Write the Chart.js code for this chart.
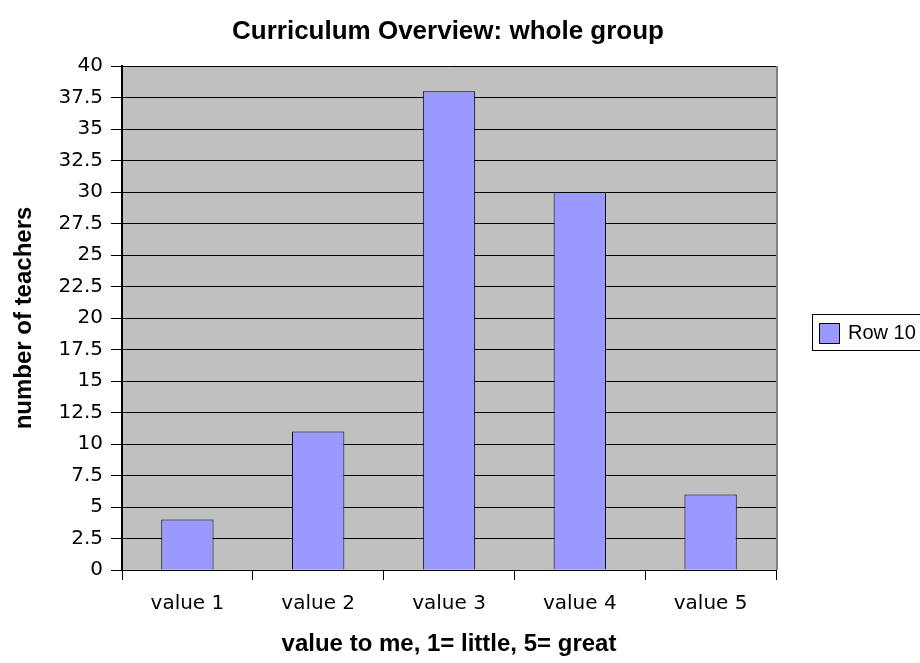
<!DOCTYPE html>
<html>
<head>
<meta charset="utf-8">
<script src="https://cdn.jsdelivr.net/npm/chart.js@4.4.0/dist/chart.umd.min.js"></script>
<style>
  html, body { margin: 0; padding: 0; background: #fff; }
  #wrap { width: 920px; height: 663px; }
</style>
</head>
<body>
<div id="wrap"><canvas id="chart" width="920" height="663"></canvas></div>
<script>
// chart data
const categories = ['value 1', 'value 2', 'value 3', 'value 4', 'value 5'];
const row10 = [4, 11, 38, 30, 6];
const seriesName = 'Row 10';
const yMin = 0, yMax = 40, yStep = 2.5;

const PLOT_BG = '#c0c0c0';
const BAR_FILL = '#9999ff';
const ARIAL = '"Liberation Sans", Arial, sans-serif';
const VERDANA = '"DejaVu Sans", Verdana, sans-serif';

// gray plot background, right frame, title and legend
const plotFrame = {
    id: 'plotFrame',
    beforeDraw(chart) {
        const { ctx, chartArea: a } = chart;
        ctx.save();
        ctx.fillStyle = PLOT_BG;
        ctx.fillRect(a.left, a.top, a.right - a.left, a.bottom - a.top);
        ctx.restore();
    },
    afterDraw(chart) {
        const { ctx, chartArea: a } = chart;
        ctx.save();
        ctx.strokeStyle = '#808080';
        ctx.lineWidth = 2;
        ctx.beginPath();
        ctx.moveTo(a.right + 1, a.top);
        ctx.lineTo(a.right + 1, a.bottom);
        ctx.stroke();

        // title
        ctx.fillStyle = '#000';
        ctx.font = 'bold 26px ' + ARIAL;
        ctx.textAlign = 'center';
        ctx.textBaseline = 'alphabetic';
        ctx.fillText('Curriculum Overview: whole group', 448, 39);

        // legend
        ctx.lineWidth = 1;
        ctx.strokeStyle = '#000';
        ctx.strokeRect(812.5, 314.5, 120, 36);
        ctx.fillStyle = BAR_FILL;
        ctx.fillRect(819.5, 323.5, 20, 20);
        ctx.strokeRect(819.5, 323.5, 20, 20);
        ctx.fillStyle = '#000';
        ctx.font = '20px ' + ARIAL;
        ctx.textAlign = 'left';
        ctx.textBaseline = 'middle';
        ctx.fillText(seriesName, 848, 333);
        ctx.restore();
    }
};

new Chart(document.getElementById('chart'), {
    type: 'bar',
    data: {
        labels: categories,
        datasets: [{
            label: seriesName,
            data: row10,
            backgroundColor: BAR_FILL,
            borderColor: '#000',
            borderWidth: 1,
            barPercentage: 0.4,
            categoryPercentage: 1.0
        }]
    },
    options: {
        responsive: false,
        animation: false,
        layout: { padding: { top: 66, right: 144, left: 0, bottom: 0 } },
        plugins: {
            legend: { display: false },
            title: { display: false },
            tooltip: { enabled: false }
        },
        scales: {
            x: {
                grid: {
                    offset: true,
                    drawOnChartArea: false,
                    drawTicks: true,
                    tickLength: 10,
                    color: '#000'
                },
                border: { color: '#000', width: 1 },
                ticks: {
                    color: '#000',
                    padding: 12,
                    font: { family: VERDANA, size: 20 }
                },
                title: {
                    display: true,
                    text: 'value to me, 1= little, 5= great',
                    color: '#000',
                    padding: { top: 0, bottom: 4 },
                    font: { family: ARIAL, size: 24, weight: 'bold' }
                },
                afterFit(scale) { scale.height = 93; }
            },
            y: {
                min: yMin,
                max: yMax,
                grid: {
                    color: '#000',
                    tickLength: 11,
                    lineWidth: 1
                },
                border: { color: '#000', width: 2 },
                ticks: {
                    stepSize: yStep,
                    color: '#000',
                    padding: 8,
                    font: { family: VERDANA, size: 20 }
                },
                title: {
                    display: true,
                    text: 'number of teachers',
                    color: '#000',
                    padding: { top: 10, bottom: 0 },
                    font: { family: ARIAL, size: 24, weight: 'bold' }
                },
                afterFit(scale) { scale.width = 122; }
            }
        }
    },
    plugins: [plotFrame]
});
</script>
</body>
</html>
